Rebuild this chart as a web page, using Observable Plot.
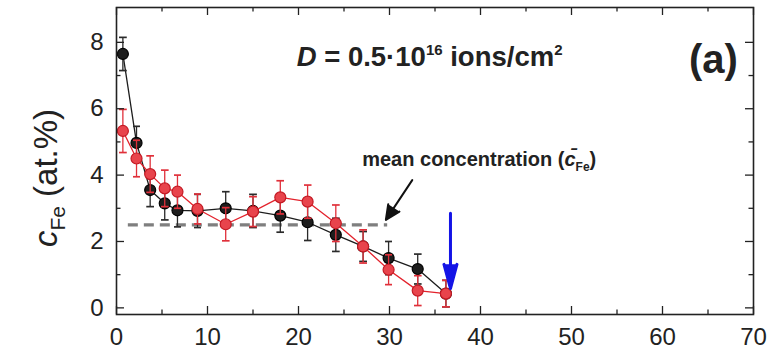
<!DOCTYPE html>
<html>
<head>
<meta charset="utf-8">
<script src="https://cdn.jsdelivr.net/npm/d3@7"></script>
<script src="https://cdn.jsdelivr.net/npm/@observablehq/plot@0.6"></script>
<style>
  html, body { margin: 0; padding: 0; background: #fff; }
  #chart svg { display: block; }
</style>
</head>
<body>
<div id="chart"></div>
<script>
// Fe concentration depth profile, fluence D = 0.5·10^16 ions/cm²
const depth    = [0.7, 2.2, 3.7, 5.3, 6.7, 8.9, 12, 15, 18, 21, 24.1, 27.1, 29.9, 33.1, 36.2];
const cBlack   = [7.65, 4.97, 3.55, 3.15, 2.94, 2.92, 3.0, 2.92, 2.78, 2.58, 2.2, 1.85, 1.5, 1.17, 0.43];
const errBlack = [0.5, 0.5, 0.5, 0.5, 0.5, 0.5, 0.5, 0.5, 0.5, 0.55, 0.5, 0.45, 0.5, 0.45, 0.4];
const cRed     = [5.33, 4.5, 4.03, 3.6, 3.5, 2.98, 2.52, 2.9, 3.33, 3.2, 2.55, 1.85, 1.15, 0.52, 0.43];
const errRed   = [0.65, 0.55, 0.55, 0.55, 0.5, 0.45, 0.5, 0.45, 0.5, 0.5, 0.55, 0.5, 0.45, 0.45, 0.4];

// mean concentration level and its extent
const meanC = 2.5;
const meanRange = [1.3, 29.8];

// annotation arrows: [x1, y1, x2, y2]
const labelArrow = [32.5, 3.85, 29.6, 2.65];
const depthArrow = [36.7, 2.85, 36.7, 0.58];

// axes
const xDomain = [0, 70];
const yDomain = [-0.2, 9.05];
const xMajor = [0, 10, 20, 30, 40, 50, 60, 70];
const xMinor = [5, 15, 25, 35, 45, 55, 65];
const yMajor = [0, 2, 4, 6, 8];
const yMinor = [1, 3, 5, 7];

const W = 780, H = 358;
const M = {top: 7, right: 27, bottom: 44, left: 116};
const innerW = W - M.left - M.right;
const innerH = H - M.top - M.bottom;
const majorLen = 8, minorLen = 4.5;

const rows = (ys, es) => depth.map((x, i) => ({x, y: ys[i], lo: ys[i] - es[i], hi: ys[i] + es[i]}));
const black = rows(cBlack, errBlack);
const red = rows(cRed, errRed);

const blackCol = "#1d1d1d";
const redLine = "#e3222c";
const redFill = "#e8444c";

const series = (data, line, fill, stroke, errCol) => [
  Plot.line(data, {x: "x", y: "y", stroke: line, strokeWidth: 1.3}),
  Plot.link(data, {x1: "x", x2: "x", y1: "lo", y2: "hi", stroke: errCol, strokeWidth: 1.3,
                   markerStart: "tick", markerEnd: "tick"}),
  Plot.dot(data, {x: "x", y: "y", r: 5.5, fill, stroke, strokeWidth: 1.2})
];

const font = "'Liberation Sans', Arial, sans-serif";

const chart = Plot.plot({
  width: W, height: H,
  marginTop: M.top, marginRight: M.right, marginBottom: M.bottom, marginLeft: M.left,
  style: {fontFamily: font, color: "#222", background: "#fff"},
  x: {domain: xDomain},
  y: {domain: yDomain},
  marks: [
    // mean concentration level
    Plot.ruleY([meanC], {x1: meanRange[0], x2: meanRange[1], stroke: "#7f7f7f",
                         strokeWidth: 3.2, strokeDasharray: "10,6"}),
    ...series(black, blackCol, blackCol, "#000", "#2a2a2a"),
    ...series(red, redLine, redFill, "#c41a24", "#e0303a"),
    // annotation arrow toward the mean line
    Plot.arrow([labelArrow], {x1: d => d[0], y1: d => d[1], x2: d => d[2], y2: d => d[3],
                              stroke: "#111", fill: "#111", strokeWidth: 2, headLength: 16, headAngle: 50}),
    // blue arrow marking the profile end
    Plot.arrow([depthArrow], {x1: d => d[0], y1: d => d[1], x2: d => d[2], y2: d => d[3],
                              stroke: "#1414e6", fill: "#1414e6", strokeWidth: 3, headLength: 24, headAngle: 30}),
    // inward ticks on all four sides
    Plot.tickX(xMajor, {x: d => d, insetTop: innerH - majorLen, stroke: "#222", strokeWidth: 1.3}),
    Plot.tickX(xMinor, {x: d => d, insetTop: innerH - minorLen, stroke: "#222", strokeWidth: 1.3}),
    Plot.tickX(xMajor, {x: d => d, insetBottom: innerH - majorLen, stroke: "#222", strokeWidth: 1.3}),
    Plot.tickX(xMinor, {x: d => d, insetBottom: innerH - minorLen, stroke: "#222", strokeWidth: 1.3}),
    Plot.tickY(yMajor, {y: d => d, insetRight: innerW - majorLen, stroke: "#222", strokeWidth: 1.3}),
    Plot.tickY(yMinor, {y: d => d, insetRight: innerW - minorLen, stroke: "#222", strokeWidth: 1.3}),
    Plot.tickY(yMajor, {y: d => d, insetLeft: innerW - majorLen, stroke: "#222", strokeWidth: 1.3}),
    Plot.tickY(yMinor, {y: d => d, insetLeft: innerW - minorLen, stroke: "#222", strokeWidth: 1.3}),
    Plot.frame({stroke: "#222", strokeWidth: 1.6}),
    Plot.axisX({ticks: xMajor, tickSize: 0, tickPadding: 13, fontSize: 24, label: null}),
    Plot.axisY({ticks: yMajor, tickSize: 0, tickPadding: 13, fontSize: 24, label: null}),
    // labels
    Plot.text(["c_Fe (at.%)"], {frameAnchor: "left", textAnchor: "middle", dx: -70, dy: 17, rotate: -90,
                                fontSize: 33, fill: "#222", className: "ylab"}),
    Plot.text(["D = 0.5·10^16 ions/cm^2"], {x: 19.8, y: 7.54, textAnchor: "start", fontSize: 27.5,
                                            fontWeight: "bold", fill: "#222", className: "dose"}),
    Plot.text(["(a)"], {x: 65.6, y: 7.45, fontSize: 40, fontWeight: "bold", fill: "#222"}),
    Plot.text(["mean concentration (c̄_Fe)"], {x: 27.0, y: 4.48, textAnchor: "start", fontSize: 20,
                                               fontWeight: "bold", fill: "#222", className: "meanlab"})
  ]
});

// rich text: italics, subscripts and superscripts
const svg = d3.select(chart);
svg.select("g.ylab text").html(
  '<tspan font-style="italic">c</tspan><tspan font-size="21" dy="8">Fe</tspan><tspan dy="-8"> (at.%)</tspan>');
svg.select("g.dose text").html(
  '<tspan font-style="italic">D</tspan> = 0.5·10<tspan font-size="15" dy="-11">16</tspan><tspan dy="11"> ions/cm</tspan><tspan font-size="15" dy="-11">2</tspan>');
svg.select("g.meanlab text").html(
  'mean concentration (<tspan font-style="italic">c̄</tspan><tspan font-size="12" dy="5">Fe</tspan><tspan dy="-5">)</tspan>');

document.getElementById("chart").appendChild(chart);
</script>
</body>
</html>
